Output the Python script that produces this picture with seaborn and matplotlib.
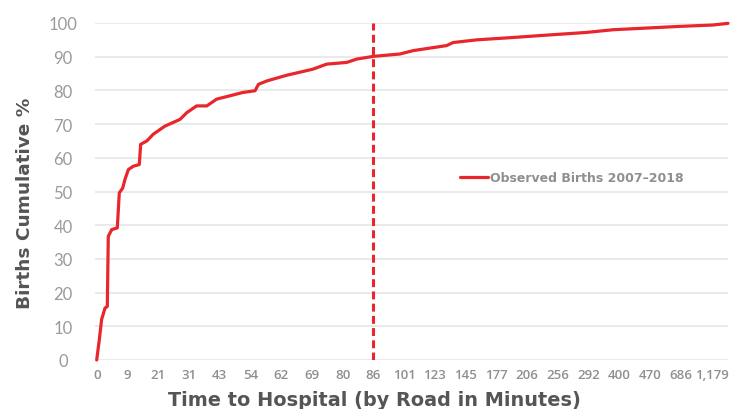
import matplotlib
matplotlib.use("Agg")
import matplotlib.pyplot as plt
import seaborn as sns
import pandas as pd

# Tick labels (time to hospital in minutes) at evenly spaced category positions
tick_labels = ["0", "9", "21", "31", "43", "54", "62", "69", "80", "86", "101",
               "123", "145", "177", "206", "256", "292", "400", "470", "686", "1,179"]

# Curve: position along the ranked axis (in tick units) and cumulative %
position = [0.0, 0.085, 0.16, 0.27, 0.345, 0.377, 0.49, 0.67, 0.735, 0.845, 0.92, 1.03,
            1.19, 1.385, 1.43, 1.63, 1.84, 2.22, 2.71, 2.93, 3.25, 3.58, 3.9, 4.33,
            4.76, 5.15, 5.26, 5.53, 6.18, 7.03, 7.48, 8.13, 8.46, 9.0, 9.86, 10.29,
            11.38, 11.59, 12.36, 13.54, 14.63, 15.93, 16.79, 18.32, 18.97, 20.04, 20.53]
cumulative = [0, 6, 12, 15.4, 15.9, 36.7, 38.7, 39.2, 49.6, 51, 53.6, 56.5,
              57.5, 58, 64, 65, 67, 69.4, 71.4, 73.4, 75.4, 75.4, 77.4, 78.4,
              79.4, 79.9, 81.8, 82.8, 84.5, 86.3, 87.8, 88.3, 89.3, 90.1, 90.8, 91.8,
              93.3, 94.2, 95, 95.7, 96.4, 97.2, 98, 98.7, 99, 99.4, 99.9]
series_name = "Observed Births 2007\u20132018"
marker_position = 9  # the "86" minute tick

df = pd.DataFrame({"pos": position, "pct": cumulative, "series": series_name})

sns.set_theme(style="white")
plt.rcParams["font.family"] = ["DejaVu Sans"]

red = "#e8262b"
gray = "#8f8f8f"
dark = "#555555"

fig = plt.figure(figsize=(7.32, 4.10), dpi=100)
ax = fig.add_axes([95 / 732, 49 / 410, (728 - 95) / 732, (361 - 24) / 410])

sns.lineplot(data=df, x="pos", y="pct", hue="series", palette=[red],
             linewidth=2.3, ax=ax, clip_on=False)
ax.axvline(marker_position, color=red, linewidth=2.2, linestyle=(0, (2.6, 1.4)))

ax.set_xlim(-0.055, 20.53)
ax.set_ylim(0, 100)
ax.set_yticks(range(0, 101, 10))
ax.set_xticks(range(len(tick_labels)))
ax.set_xticklabels(tick_labels)

ax.grid(axis="y", color="#e6e6e6", linewidth=1.2)
ax.set_axisbelow(True)
for s in ax.spines.values():
    s.set_visible(False)

ax.tick_params(axis="y", length=0, pad=23, labelcolor="#9a9a9a")
for lbl in ax.get_yticklabels():
    lbl.set_horizontalalignment("center")
    lbl.set_fontfamily(["Lato", "DejaVu Sans"])
    lbl.set_fontweight("normal")
    lbl.set_fontsize(12)
ax.tick_params(axis="x", length=0, pad=6, labelcolor=gray)
for lbl in ax.get_xticklabels():
    lbl.set_fontfamily(["Open Sans", "DejaVu Sans"])
    lbl.set_fontweight("semibold")
    lbl.set_fontsize(9.5)

ax.set_xlabel("")
ax.set_ylabel("")
fig.text(374 / 732, 1 - 401 / 410, "Time to Hospital (by Road in Minutes)",
         ha="center", va="center", fontsize=13.9, fontweight="bold", color=dark)
fig.text(25 / 732, 1 - 203 / 410, "Births Cumulative %", rotation=90,
         ha="center", va="center", fontsize=13.3, fontweight="bold", color=dark)

leg = ax.legend(loc="center left", bbox_to_anchor=((460 - 95) / 633, (361 - 179) / 337),
                frameon=False, handlelength=2.2, handletextpad=0.2,
                prop={"size": 9, "weight": "bold"}, borderpad=0, borderaxespad=0)
for t in leg.get_texts():
    t.set_color(gray)

fig.savefig("out.png", dpi=100)
